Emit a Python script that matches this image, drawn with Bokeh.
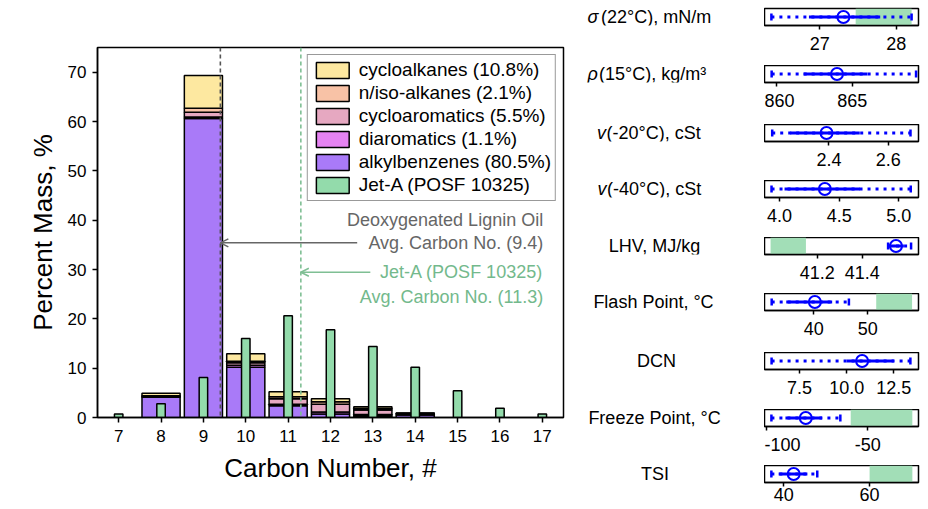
import math
from bokeh.plotting import figure
from bokeh.layouts import row, column
from bokeh.models import (ColumnDataSource, Span, Label, Arrow, OpenHead, Legend,
                          LegendItem, FixedTicker, Range1d, PrintfTickFormatter)
from bokeh.embed import file_html
from bokeh.resources import INLINE

FONT = "Liberation Sans"

# ---------------- data: carbon number distribution ----------------
carbons = [7, 8, 9, 10, 11, 12, 13, 14, 15, 16, 17]
jet_a = [0.7, 2.8, 8.1, 16.0, 20.6, 17.8, 14.4, 10.2, 5.4, 1.9, 0.7]

dlo_carbons = [8, 9, 10, 11, 12, 13, 14]
alkylbenzenes = [4.1, 60.6, 10.2, 2.4, 0.7, 0.3, 0.5]
diaromatics = [0.1, 0.3, 0.4, 0.3, 0.4, 0.3, 0.2]
cycloaromatics = [0.1, 1.0, 0.5, 1.1, 1.6, 0.9, 0.1]
n_iso_alkanes = [0.1, 0.8, 0.3, 0.4, 0.5, 0.3, 0.05]
cycloalkanes = [0.5, 6.6, 1.5, 1.0, 0.6, 0.4, 0.05]

dlo_avg = 9.4
jet_avg = 11.3

classes = ["alkylbenzenes", "diaromatics", "cycloaromatics", "n_iso_alkanes", "cycloalkanes"]
class_colors = ["#a97af8", "#e583f2", "#e6a8c1", "#f8c2a6", "#fde8a0"]
class_labels = ["alkylbenzenes (80.5%)", "diaromatics (1.1%)", "cycloaromatics (5.5%)",
                "n/iso-alkanes (2.1%)", "cycloalkanes (10.8%)"]
jet_label = "Jet-A (POSF 10325)"
jet_color = "#93dbab"
y_ticks = [0, 10, 20, 30, 40, 50, 60, 70]

# ---------------- data: property panels ----------------
panel_symbols = ["σ", "ρ", "v", "v", "", "", "", "", ""]
panel_texts = ["(22°C), mN/m", "(15°C), kg/m³", "(-20°C), cSt", "(-40°C), cSt",
               "LHV, MJ/kg", "Flash Point, °C", "DCN", "Freeze Point, °C", "TSI"]
panel_center = [27.31, 864.0, 2.392, 4.38, 41.55, 40.2, 10.82, -80.5, 42.3]
solid_lo = [26.86, 861.8, 2.27, 4.042, 41.517, 34.9, 10.0, -90.5, 38.8]
solid_hi = [27.79, 866.0, 2.504, 4.675, 41.585, 43.4, 12.5, -72.5, 45.5]
dotted_lo = [26.37, 859.7, 2.209, 3.933, 41.515, 32.2, 6.02, -97.4, 37.1]
dotted_hi = [28.2, 869.2, 2.675, 5.1, 41.617, 46.5, 13.38, -63.5, 47.8]
jet_lo = [27.47, None, None, None, 40.993, 51.56, None, -58.4, 60.0]
jet_hi = [28.2, None, None, None, 41.15, 58.2, None, -28.1, 69.97]
panel_ticks = [[27, 28], [860, 865], [2.4, 2.6], [4.0, 4.5, 5.0], [41.2, 41.4],
               [40, 50], [7.5, 10.0, 12.5], [-100, -50], [40, 60]]
panel_fmt = ["%d", "%d", "%.1f", "%.1f", "%.1f", "%d", "%.1f", "%d", "%d"]
panel_xlim = [(26.28, 28.29), (859.23, 869.36), (2.183, 2.702), (3.874, 5.165),
              (40.966, 41.65), (30.87, 59.39), (5.644, 13.81), (-100.8, -25.06), (35.5, 71.4)]

# ---------------- main chart ----------------
p = figure(width=583, height=492, x_range=Range1d(6.5, 17.5), y_range=Range1d(0, 75),
           output_backend="svg", toolbar_location=None, title=None,
           min_border_left=97, min_border_right=20, min_border_top=47, min_border_bottom=75)

src = ColumnDataSource(dict(x=dlo_carbons, alkylbenzenes=alkylbenzenes, diaromatics=diaromatics,
                            cycloaromatics=cycloaromatics, n_iso_alkanes=n_iso_alkanes,
                            cycloalkanes=cycloalkanes))
stack_rs = p.vbar_stack(classes, x="x", width=0.9, source=src, fill_color=class_colors,
                        line_color="black", line_width=1.5)
jet_r = p.vbar(x=carbons, top=jet_a, width=0.2, fill_color=jet_color,
               line_color="black", line_width=1.5)

p.add_layout(Span(location=dlo_avg, dimension="height", line_color="#555555",
                  line_dash="4 3", line_width=1.6))
p.add_layout(Span(location=jet_avg, dimension="height", line_color="#7fbf94",
                  line_dash="4 3", line_width=1.6))

gray_txt = "#666666"
green_txt = "#73b98c"
p.add_layout(Arrow(end=OpenHead(size=8, line_color="#666666", line_width=1.5),
                   x_start=12.63, y_start=35.4, x_end=dlo_avg, y_end=35.4,
                   line_color="#666666", line_width=1.5))
p.add_layout(Arrow(end=OpenHead(size=8, line_color="#7fbf94", line_width=1.5),
                   x_start=12.94, y_start=29.45, x_end=jet_avg, y_end=29.45,
                   line_color="#7fbf94", line_width=1.5))
for txt, yy, col in [("Deoxygenated Lignin Oil", 40.1, gray_txt),
                     ("Avg. Carbon No. (%.1f)" % dlo_avg, 35.45, gray_txt),
                     ("Jet-A (POSF 10325)", 29.45, green_txt),
                     ("Avg. Carbon No. (%.1f)" % jet_avg, 24.5, green_txt)]:
    p.add_layout(Label(x=17.02, y=yy, text=txt, text_align="right", text_baseline="middle",
                       text_font=FONT, text_font_size="18px", text_color=col))

items = []
for i in [4, 3, 2, 1, 0]:
    items.append(LegendItem(label=class_labels[i], renderers=[stack_rs[i]]))
items.append(LegendItem(label=jet_label, renderers=[jet_r]))
leg = Legend(items=items, location="top_right", margin=7, padding=4, spacing=1,
             glyph_width=41, glyph_height=20, label_standoff=6,
             label_text_font=FONT, label_text_font_size="19px", label_text_color="black",
             border_line_color="#333333", border_line_width=1, background_fill_alpha=1)
p.add_layout(leg)

p.xaxis.ticker = FixedTicker(ticks=carbons)
p.yaxis.ticker = FixedTicker(ticks=y_ticks)
p.xaxis.axis_label = "Carbon Number, #"
p.yaxis.axis_label = "Percent Mass, %"
for ax in [p.xaxis[0], p.yaxis[0]]:
    ax.axis_label_text_font = FONT
    ax.axis_label_text_font_size = "26px"
    ax.axis_label_text_font_style = "normal"
    ax.axis_label_text_color = "black"
    ax.major_label_text_font = FONT
    ax.major_label_text_font_size = "17px"
    ax.major_label_text_color = "black"
    ax.axis_line_width = 1.5
    ax.axis_line_color = "black"
    ax.major_tick_line_width = 1.5
    ax.major_tick_line_color = "black"
    ax.major_tick_out = 5
    ax.major_tick_in = 0
    ax.minor_tick_line_color = None
p.xaxis.major_label_standoff = 7
p.xaxis.axis_label_standoff = 8
p.yaxis.major_label_standoff = 6
p.yaxis.axis_label_standoff = 7
p.grid.visible = False
p.outline_line_color = "black"
p.outline_line_width = 1.5
p.outline_line_alpha = 1

# ---------------- property panels (label strip + panel per row) ----------------
heights = [65, 59, 56, 57, 56, 59, 57, 56, 43]
top_borders = [8, 0, 0, 0, 0, 0, 0, 0, 0]
FRAME_H = 17
LABEL_W = 181
sym_px = [4, 4, 13.5, 14, None, None, None, None, None]
txt_px = [17.5, 15.5, 23, 23.5, 71, 70, 73, 71, 71.5]
rows = []
for i in range(9):
    h = heights[i]
    lo, hi = panel_xlim[i]
    bb = h - FRAME_H - top_borders[i]
    q = figure(width=163, height=h, x_range=Range1d(lo, hi), y_range=Range1d(0, 1),
               output_backend="svg", toolbar_location=None, title=None, y_axis_location=None,
               min_border_left=0, min_border_right=9, min_border_top=top_borders[i],
               min_border_bottom=bb)
    if jet_lo[i] is not None:
        q.quad(left=[jet_lo[i]], right=[jet_hi[i]], bottom=[0], top=[1],
               fill_color="#a2deb7", line_color=None)
    q.segment(x0=[dotted_lo[i]], y0=[0.5], x1=[dotted_hi[i]], y1=[0.5],
              line_color="blue", line_width=3, line_dash="3 5")
    q.segment(x0=[solid_lo[i]], y0=[0.5], x1=[solid_hi[i]], y1=[0.5],
              line_color="blue", line_width=3)
    q.scatter(x=[dotted_lo[i], dotted_hi[i]], y=[0.5, 0.5], marker="dash", angle=math.pi / 2,
              size=7, line_color="blue", line_width=2.5)
    q.scatter(x=[panel_center[i]], y=[0.5], marker="circle", size=12, fill_color=None,
              line_color="blue", line_width=2)
    ax = q.xaxis[0]
    ax.ticker = FixedTicker(ticks=panel_ticks[i])
    ax.formatter = PrintfTickFormatter(format=panel_fmt[i])
    ax.major_label_text_font = FONT
    ax.major_label_text_font_size = "18px"
    ax.major_label_text_color = "black"
    ax.axis_line_width = 1.5
    ax.axis_line_color = "black"
    ax.major_tick_line_width = 1.5
    ax.major_tick_line_color = "black"
    ax.major_tick_out = 4
    ax.major_tick_in = 0
    ax.minor_tick_line_color = None
    ax.major_label_standoff = 1 if i == 8 else 7
    q.grid.visible = False
    q.outline_line_color = "black"
    q.outline_line_width = 1.5
    q.outline_line_alpha = 1

    lab = figure(width=LABEL_W, height=h, x_range=Range1d(0, LABEL_W), y_range=Range1d(0, 1),
                 output_backend="svg", toolbar_location=None, title=None,
                 x_axis_location=None, y_axis_location=None,
                 min_border_left=0, min_border_right=0, min_border_top=top_borders[i],
                 min_border_bottom=bb)
    lab.grid.visible = False
    lab.outline_line_color = None
    if panel_symbols[i]:
        lab.add_layout(Label(x=sym_px[i], y=0.5, text=panel_symbols[i], text_align="left",
                             text_baseline="middle", text_font=FONT, text_font_size="18px",
                             text_font_style="italic", text_color="black"))
        lab.add_layout(Label(x=txt_px[i], y=0.5, text=panel_texts[i], text_align="left",
                             text_baseline="middle", text_font=FONT, text_font_size="18px",
                             text_color="black"))
    else:
        lab.add_layout(Label(x=txt_px[i], y=0.5, text=panel_texts[i], text_align="center",
                             text_baseline="middle", text_font=FONT, text_font_size="18px",
                             text_color="black"))
    rows.append(row(lab, q))

layout = row(p, column(*rows))
open("out.html", "w").write(file_html(layout, INLINE))
